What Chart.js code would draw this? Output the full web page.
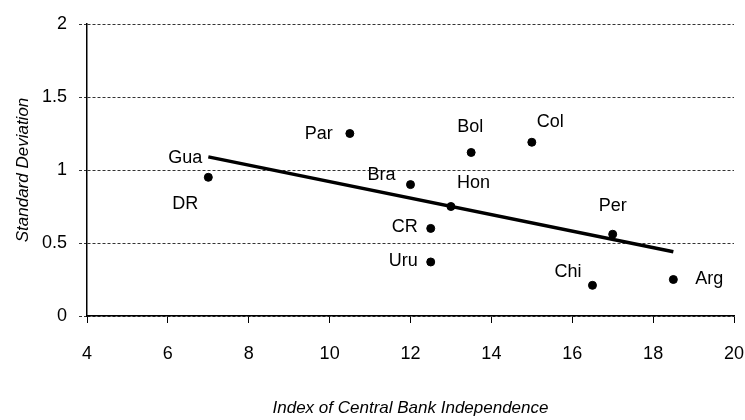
<!DOCTYPE html>
<html>
<head>
<meta charset="utf-8">
<script src="https://cdn.jsdelivr.net/npm/chart.js@4"></script>
<style>
  body { margin: 0; background: #fff; }
</style>
</head>
<body>
<canvas id="my-chart" width="745" height="420"></canvas>
<script>
const countries = ["DR", "Par", "Bol", "Col", "Bra", "Hon", "CR", "Uru", "Per", "Chi", "Arg"];
const cbiIndex = [7, 10.5, 13.5, 15, 12, 13, 12.5, 12.5, 17, 16.5, 18.5];
const stdDev = [0.95, 1.25, 1.12, 1.19, 0.9, 0.75, 0.6, 0.37, 0.56, 0.21, 0.25];

// fitted line, "Gua" sits at its left end
const trendX = [7, 18.5];
const trendY = [1.09, 0.44];
const trendLabel = "Gua";

const xTicks = [4, 20, 2]; // min, max, step
const yTicks = [0, 2, 0.5];

// where each label goes relative to its dot
const labelPlace = {
  DR: [-23, 27, "center"],
  Par: [-17, 1, "right"],
  Bol: [-1, -25, "center"],
  Col: [5, -20, "left"],
  Bra: [-15, -10, "right"],
  Hon: [6, -23, "left"],
  CR: [-13, -1, "right"],
  Uru: [-13, -1, "right"],
  Per: [0, -28, "center"],
  Chi: [-11, -13, "right"],
  Arg: [22, 0, "left"],
  Gua: [-6, 1, "right"]
};

const pointLabels = {
  id: "pointLabels",
  afterDatasetsDraw(chart) {
    const ctx = chart.ctx;
    const xs = chart.scales.x;
    const ys = chart.scales.y;
    ctx.save();
    ctx.font = "18px 'Liberation Sans', Arial, sans-serif";
    ctx.fillStyle = "#000";
    ctx.textBaseline = "middle";
    const put = (name, x, y) => {
      const p = labelPlace[name];
      ctx.textAlign = p[2];
      ctx.fillText(name, xs.getPixelForValue(x) + p[0], ys.getPixelForValue(y) + p[1]);
    };
    countries.forEach((c, i) => put(c, cbiIndex[i], stdDev[i]));
    put(trendLabel, trendX[0], trendY[0]);
    ctx.restore();
  }
};

const tickFont = { family: "'Liberation Sans', Arial, sans-serif", size: 18 };
const titleFont = { family: "'Liberation Sans', Arial, sans-serif", size: 17, style: "italic" };

const ctx = document.getElementById("my-chart").getContext("2d");
const chart = new Chart(ctx, {
  type: "scatter",
  data: {
    datasets: [
      {
        label: "Countries",
        data: countries.map((c, i) => ({ x: cbiIndex[i], y: stdDev[i] })),
        backgroundColor: "#000",
        borderColor: "#000",
        pointRadius: 4,
        pointHoverRadius: 4,
        order: 0
      },
      {
        type: "line",
        label: "Trend",
        data: trendX.map((x, i) => ({ x: x, y: trendY[i] })),
        borderColor: "#000",
        borderWidth: 3.5,
        pointRadius: 0,
        fill: false,
        order: 1
      }
    ]
  },
  options: {
    responsive: false,
    animation: false,
    layout: { padding: { top: 24, right: 11, bottom: 0, left: 0 } },
    plugins: {
      legend: { display: false },
      tooltip: { enabled: false }
    },
    scales: {
      x: {
        type: "linear",
        min: xTicks[0],
        max: xTicks[1],
        ticks: { stepSize: xTicks[2], color: "#000", font: tickFont, padding: 20, maxRotation: 0 },
        grid: { drawOnChartArea: false, tickLength: 7, color: "#000" },
        border: { color: "#000", width: 1.5 },
        title: {
          display: true,
          text: "Index of Central Bank Independence",
          color: "#000",
          font: titleFont,
          padding: { top: 0, bottom: 2 }
        },
        afterFit(scale) {
          scale.height = 104;
          scale.paddingLeft = 0;
          scale.paddingRight = 0;
        }
      },
      y: {
        min: yTicks[0],
        max: yTicks[1],
        ticks: {
          stepSize: yTicks[2],
          color: "#000",
          font: tickFont,
          padding: 12,
          callback: (v) => String(v)
        },
        grid: { color: "#333", tickLength: 8, lineWidth: 1, tickBorderDash: [3, 2] },
        border: { color: "#000", width: 1.5, dash: [3, 2] },
        title: {
          display: true,
          text: "Standard Deviation",
          color: "#000",
          font: titleFont,
          padding: { top: 13, bottom: 0 }
        },
        afterFit(scale) { scale.width = 87; }
      }
    }
  },
  plugins: [pointLabels]
});
</script>
</body>
</html>
